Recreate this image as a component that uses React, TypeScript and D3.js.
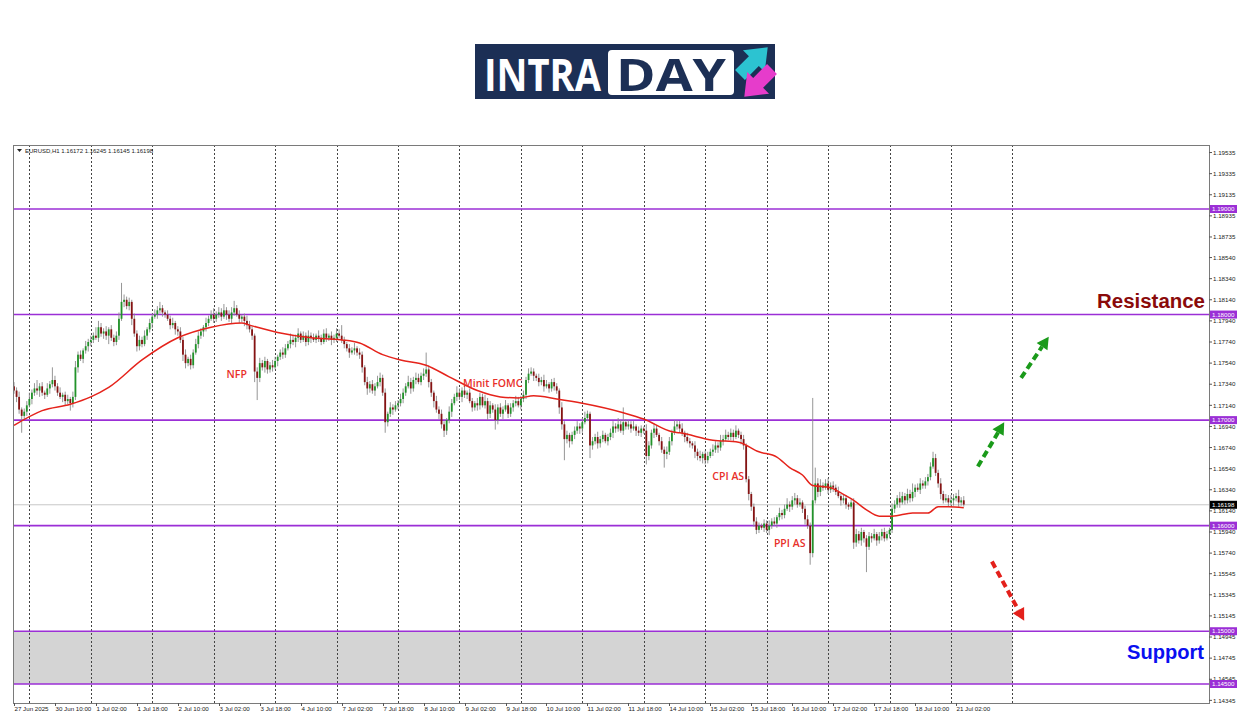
import React from 'react';
import * as d3 from 'd3';

// ---------- DATA ----------
const BASE_PRICE = 1.15; // pip offsets below are relative to this price
const FIRST_OPEN_PIPS = 232;
// close of each H1 bar, pips above 1.15000 (27 Jun 18:00 .. 21 Jul 05:00)
const CLOSE_PIPS = [
  228, 222, 210, 204, 208, 214, 220,
  226, 230, 228, 232, 226, 224, 230, 234, 238,
  232, 226, 222, 224, 218, 220, 216,
  222, 250, 262,
  258, 266, 270, 274, 276, 280, 278,
  288, 282,
  284, 280, 286, 278, 274, 280,
  296, 312, 314, 308, 312,
  296, 282, 270, 276, 272,
  280, 286, 292, 298, 300, 304, 306, 302,
  300, 296, 290, 292, 286, 284,
  276, 262, 254, 258, 252,
  264, 272, 280, 284,
  288, 292, 296, 300, 296, 300,
  302, 298, 304, 300, 296, 302, 306, 300, 296, 298,
  294, 290, 286,
  280, 246, 240,
  254, 250, 256, 248, 252, 250,
  256, 260, 264, 262, 268, 272, 276, 274,
  278, 282, 276, 280, 274, 280, 278,
  276, 280, 278, 274, 282, 278, 280, 276, 278, 282, 280, 276,
  272, 268, 264, 266, 268, 264, 262,
  250, 236, 230,
  234, 228, 232, 236,
  240, 226, 198,
  206, 212, 210, 214, 216,
  220, 226, 232, 236, 230, 238, 240, 236, 242, 244,
  248, 236, 226, 218, 210, 206,
  196, 190, 200,
  208, 216, 222, 226, 222, 228, 224, 226,
  218, 212, 216, 214,
  222, 214, 218, 206, 214, 210, 200, 212, 206,
  210, 214, 206, 212, 216, 218, 214, 220, 224,
  238, 244, 246, 242,
  240, 236, 238, 232, 234, 230, 236, 232, 228,
  212,
  196, 182, 186, 180,
  186, 190, 194, 192, 198, 202, 206,
  176,
  180, 184, 178, 182, 186, 180, 184,
  188, 194, 192, 196, 190, 198, 194, 196, 192,
  194, 190, 188, 192, 190,
  166,
  176, 188, 192, 186,
  180, 172, 168, 170,
  180, 188, 194, 196, 192,
  188, 184, 180, 178, 176,
  170, 166, 164, 168, 162, 166,
  170, 172, 176, 174, 180, 182, 186, 184, 188,
  184, 190, 186, 182, 176,
  144, 130, 118, 104, 96,
  100, 98, 102, 96, 100,
  104, 102, 108, 112, 110, 116, 120, 118, 124,
  126, 120, 122, 116,
  106, 100,
  74, 124,
  140, 132, 138,
  136, 140, 134, 138, 136, 132,
  128, 124, 126, 120, 118, 122,
  84,
  92, 86, 94, 88, 80,
  90, 88, 92, 86, 90, 94, 88, 92, 96,
  116,
  120, 126, 122, 128, 124, 130, 126, 132,
  136, 134, 140, 138, 142, 146,
  156, 164,
  150, 140, 130,
  124, 126, 122, 124, 126,
  128, 122, 124,
  120,
];
// upper wick length of each bar (pips)
const UP_WICK = [
  4,3,5,2,3,4,6,3,5,8,3,4,2,5,3,12,4,3,5,2,
  3,4,2,5,6,3,4,2,5,3,4,3,8,6,4,3,5,2,4,3,
  4,6,18,5,3,4,2,5,3,4,3,5,2,4,3,5,4,6,3,2,
  4,3,5,2,3,4,3,5,2,4,3,5,4,3,2,5,3,4,6,3,
  5,4,6,3,4,5,7,3,4,2,3,5,4,3,2,4,5,3,4,2,
  3,5,4,2,3,5,4,3,6,4,3,5,2,4,3,5,3,4,2,5,
  3,4,5,2,4,3,5,4,10,3,2,4,3,5,2,4,3,2,5,3,
  4,3,6,5,3,4,2,5,3,4,3,5,4,3,6,4,3,5,4,3,
  5,16,4,3,2,5,3,4,3,2,5,4,3,6,4,3,5,2,4,3,
  2,5,4,3,6,3,4,2,5,3,4,3,5,2,4,3,5,4,3,4,
  3,5,4,3,2,4,3,5,4,2,3,4,3,2,5,3,4,2,3,4,
  5,3,4,6,3,2,4,3,5,3,4,2,3,4,5,3,6,4,14,3,
  4,3,5,2,4,3,2,6,4,3,5,3,2,4,3,5,4,3,6,4,
  3,5,2,4,3,2,4,3,5,2,3,4,3,5,4,3,6,4,5,3,
  4,3,5,2,3,4,2,3,2,3,4,3,2,4,3,5,3,4,2,5,
  3,4,6,3,4,5,3,4,2,3,4,3,97,15,5,6,3,4,5,3,
  4,3,5,2,4,3,2,3,4,5,3,4,2,3,4,3,5,2,4,3,
  4,3,2,5,4,3,6,4,3,5,4,8,3,4,5,3,4,3,4,6,
  4,3,5,3,4,3,5,4,3,6,3,4,
];
// lower wick length of each bar (pips)
const DN_WICK = [
  3,5,4,16,3,4,2,5,3,4,6,3,4,2,5,3,4,3,2,5,
  4,3,7,4,3,5,2,4,3,5,4,3,2,4,3,5,4,8,3,4,
  3,4,2,5,3,4,6,3,5,4,3,2,4,3,5,2,4,3,4,3,
  2,4,3,5,4,3,6,5,3,4,3,2,4,3,5,4,3,2,4,3,
  3,4,2,5,3,4,3,2,4,3,5,4,3,4,10,21,4,3,5,4,
  3,4,2,5,3,4,3,2,4,3,5,4,3,2,4,3,5,2,3,4,
  3,2,4,3,5,3,4,2,3,4,3,5,2,4,3,4,5,3,6,4,
  3,5,2,4,3,10,4,3,5,2,4,3,4,3,2,5,3,4,2,3,
  4,3,5,4,6,3,5,4,6,4,3,5,2,4,3,5,3,4,2,4,
  3,5,4,2,3,6,4,3,9,4,3,5,2,4,3,4,3,2,4,3,
  4,3,2,5,3,4,3,5,2,4,3,4,3,6,5,20,4,6,3,4,
  3,5,4,2,3,12,4,3,5,4,3,2,4,3,5,4,3,2,4,3,
  3,4,2,5,3,4,3,8,4,3,5,2,4,3,13,5,3,4,2,3,
  4,3,5,2,4,3,6,4,3,5,4,3,2,4,3,5,3,4,2,3,
  3,4,2,3,5,4,3,6,4,5,4,3,2,4,3,5,3,2,4,3,
  4,3,2,5,3,4,3,2,4,5,3,11,4,3,5,4,3,2,4,3,
  4,3,2,5,3,4,3,2,6,4,3,5,4,24,3,4,2,5,3,4,
  3,2,4,3,4,3,5,2,4,3,4,3,5,2,4,3,3,4,3,2,
  3,4,5,3,2,4,3,5,3,4,3,2,
];
// moving average: [bar index, pips above 1.15000]
const MA_POINTS: [number, number][] = [
  [0, 195], [11, 209], [22, 215], [30, 222], [37, 231], [50, 257], [64, 278], [77, 288],
  [89, 292], [92, 290], [103, 283], [116, 278], [128, 276], [135, 273], [144, 262],
  [151, 257], [161, 252], [170, 241], [181, 228], [190, 222], [197, 221], [203, 223],
  [212, 220], [222, 216], [238, 207], [246, 201], [257, 189], [260, 188], [273, 181],
  [283, 179], [291, 170], [298, 165], [303, 155], [308, 148], [312, 138], [319, 136],
  [323, 131], [328, 124], [333, 115], [338, 109], [343, 109], [351, 112], [357, 112],
  [361, 118], [365, 118], [371, 117],
];
const X_LABELS = [
  '27 Jun 2025', '30 Jun 10:00', '1 Jul 02:00', '1 Jul 18:00', '2 Jul 10:00', '3 Jul 02:00',
  '3 Jul 18:00', '4 Jul 10:00', '7 Jul 02:00', '7 Jul 18:00', '8 Jul 10:00', '9 Jul 02:00',
  '9 Jul 18:00', '10 Jul 10:00', '11 Jul 02:00', '11 Jul 18:00', '14 Jul 10:00', '15 Jul 02:00',
  '15 Jul 18:00', '16 Jul 10:00', '17 Jul 02:00', '17 Jul 18:00', '18 Jul 10:00', '21 Jul 02:00',
];
const X_LABEL_BARS = [0, 16, 32, 48, 64, 80, 96, 112, 128, 144, 160, 176, 192, 208, 224, 240, 256, 272, 288, 304, 320, 336, 352, 368];
const DAY_START_BARS = [6, 30, 54, 78, 102, 126, 150, 174, 198, 222, 246, 270, 294, 318, 342, 366, 390];
const Y_TICKS = [
  1.19535, 1.19335, 1.19135, 1.18935, 1.18735, 1.1854, 1.1834, 1.1814, 1.1794, 1.1774,
  1.1754, 1.1734, 1.1714, 1.1694, 1.1674, 1.1654, 1.1634, 1.1614, 1.1594, 1.1574,
  1.15545, 1.15345, 1.15145, 1.14945, 1.14745, 1.14545, 1.14345,
];
const LEVELS = [1.19, 1.18, 1.17, 1.16, 1.15, 1.145];
const SUPPORT_ZONE = [1.145, 1.15];
const CURRENT_PRICE = 1.16198;
const EVENTS = [
  { label: 'NFP', bar: 87, price: 1.17436 },
  { label: 'Minit FOMC', bar: 187, price: 1.1735 },
  { label: 'CPI AS', bar: 279, price: 1.1647 },
  { label: 'PPI AS', bar: 303, price: 1.1584 },
];
const ARROWS = [
  { from: [376.5, 1.1656], to: [386.8, 1.1698], color: '#1a9a1a' },
  { from: [393.4, 1.1740], to: [404.2, 1.1779], color: '#1a9a1a' },
  { from: [382.0, 1.1566], to: [394.6, 1.1510], color: '#e3201b' },
];
const HEADER = 'EURUSD,H1  1.16172 1.16245 1.16145 1.16198';

// ---------- LAYOUT ----------
const W = 1250, H = 716;
const L = 13, T = 145, R = 1209, B = 703;

export default function App() {
  const x = d3.scaleLinear().domain([0, 390]).range([14, 1012.4]);
  const y = d3.scaleLinear().domain([1.145, 1.19]).range([684, 209]);
  const px = (p: number) => BASE_PRICE + p / 10000;

  const candles = CLOSE_PIPS.map((c, i) => {
    const o = i === 0 ? FIRST_OPEN_PIPS : CLOSE_PIPS[i - 1];
    const hi = Math.max(o, c) + UP_WICK[i];
    const lo = Math.min(o, c) - DN_WICK[i];
    return { i, o: px(o), c: px(c), h: px(hi), l: px(lo) };
  });

  const maLine = d3
    .line<[number, number]>()
    .x((d) => x(d[0]))
    .y((d) => y(px(d[1])))
    .curve(d3.curveMonotoneX)(MA_POINTS) as string;

  const axisFont = '"Liberation Sans", Arial, sans-serif';
  const arrowPoly = (x1: number, y1: number, x2: number, y2: number) => {
    const ang = Math.atan2(y2 - y1, x2 - x1);
    const len = 12, wid = 6.5;
    const bx = x2 - len * Math.cos(ang), by = y2 - len * Math.sin(ang);
    const nx = -Math.sin(ang), ny = Math.cos(ang);
    return { bx, by, pts: `${x2},${y2} ${bx + nx * wid},${by + ny * wid} ${bx - nx * wid},${by - ny * wid}` };
  };

  const logoArrow = 'M0,-5 L14,-5 L14,-11 L28,0 L14,11 L14,5 L0,5 Z';

  return (
    <svg width={W} height={H} style={{ position: 'absolute', left: 0, top: 0, background: '#fff' }}>
      <rect x={0} y={0} width={W} height={H} fill="#ffffff" />
      {/* Logo */}
      <g>
        <rect x={475} y={44} width={300} height={55} fill="#1c2f55" />
        <text x={484} y={91} fill="#ffffff" fontFamily='"Open Sans", sans-serif' fontWeight={700} fontSize={44} textLength={117} lengthAdjust="spacingAndGlyphs">INTRA</text>
        <rect x={608} y={50} width={126} height={45} rx={4} fill="#ffffff" />
        <text x={616} y={91} fill="#1c2f55" fontFamily='"Open Sans", sans-serif' fontWeight={700} fontSize={44} textLength={110} lengthAdjust="spacingAndGlyphs">DAY</text>
        <path d={logoArrow} fill="#2cc3d1" transform="translate(740,75) rotate(-45) scale(1.4)" />
        <path d={logoArrow} fill="#e63ccb" transform="translate(772,69) rotate(135) scale(1.4)" />
      </g>

      {/* Support zone */}
      <rect x={L} y={y(SUPPORT_ZONE[1])} width={x(390) - L} height={y(SUPPORT_ZONE[0]) - y(SUPPORT_ZONE[1])} fill="#d4d4d4" />

      {/* Vertical day grid */}
      {DAY_START_BARS.map((b) => (
        <line key={'g' + b} x1={Math.round(x(b)) + 0.5} x2={Math.round(x(b)) + 0.5} y1={T} y2={B} stroke="#444" strokeWidth={1} strokeDasharray="2,2" />
      ))}

      {/* Current price line */}
      <line x1={L} x2={R} y1={y(CURRENT_PRICE)} y2={y(CURRENT_PRICE)} stroke="#c8c8c8" strokeWidth={1} />

      {/* Levels */}
      {LEVELS.map((lv) => (
        <line key={'lv' + lv} x1={L} x2={R} y1={y(lv)} y2={y(lv)} stroke="#9b2fd6" strokeWidth={1.6} />
      ))}

      {/* Candles */}
      <g>
        {candles.map((d) => {
          const cx = x(d.i);
          const bull = d.c >= d.o;
          const top = y(Math.max(d.o, d.c));
          const bot = y(Math.min(d.o, d.c));
          return (
            <g key={d.i}>
              <line x1={cx} x2={cx} y1={y(d.h)} y2={y(d.l)} stroke="#8a8a8a" strokeWidth={0.9} />
              <rect x={cx - 0.9} y={top} width={1.8} height={Math.max(1, bot - top)} fill={bull ? '#22932a' : '#861313'} />
            </g>
          );
        })}
      </g>

      {/* Moving average */}
      <path d={maLine} fill="none" stroke="#e5231b" strokeWidth={1.5} />

      {/* Event labels */}
      {EVENTS.map((e) => (
        <text key={e.label} x={x(e.bar)} y={y(e.price) + 4} textAnchor="middle" fill="#e8302a" fontFamily='"Open Sans", sans-serif' fontWeight={600} fontSize={10.5}>{e.label}</text>
      ))}

      {/* Arrows */}
      {ARROWS.map((a, k) => {
        const x1 = x(a.from[0]), y1 = y(a.from[1]), x2 = x(a.to[0]), y2 = y(a.to[1]);
        const ap = arrowPoly(x1, y1, x2, y2);
        return (
          <g key={'a' + k}>
            <line x1={x1} y1={y1} x2={ap.bx} y2={ap.by} stroke={a.color} strokeWidth={4} strokeDasharray="7,4" />
            <polygon points={ap.pts} fill={a.color} />
          </g>
        );
      })}

      {/* Resistance / Support */}
      <text x={1205} y={308} textAnchor="end" fill="#8a0a0a" fontFamily='"Liberation Sans", Arial, sans-serif' fontWeight={900} fontSize={20} textLength={108} lengthAdjust="spacingAndGlyphs">Resistance</text>
      <text x={1204} y={659} textAnchor="end" fill="#0a0ff0" fontFamily='"Liberation Sans", Arial, sans-serif' fontWeight={900} fontSize={20} textLength={77} lengthAdjust="spacingAndGlyphs">Support</text>

      {/* Frame */}
      <rect x={L + 0.5} y={T + 0.5} width={R - L} height={B - T} fill="none" stroke="#7a7a7a" strokeWidth={1} />

      {/* Header */}
      <path d={`M17,149 L22,149 L19.5,152 Z`} fill="#222" />
      <text x={25} y={152.5} fontFamily={axisFont} fontSize={6} fill="#222">{HEADER}</text>

      {/* Y axis ticks */}
      {Y_TICKS.map((v) => (
        <g key={'yt' + v}>
          <line x1={R} x2={R + 3} y1={y(v)} y2={y(v)} stroke="#555" />
          <text x={R + 4} y={y(v) + 2.2} fontFamily={axisFont} fontSize={6.2} fill="#222">{v.toFixed(5)}</text>
        </g>
      ))}
      {/* Level labels */}
      {LEVELS.map((lv) => (
        <g key={'ll' + lv}>
          <rect x={R + 1} y={y(lv) - 4} width={27} height={8} fill="#9b2fd6" />
          <text x={R + 3} y={y(lv) + 2.2} fontFamily={axisFont} fontSize={6.2} fill="#ffffff">{lv.toFixed(5)}</text>
        </g>
      ))}
      <rect x={R + 1} y={y(CURRENT_PRICE) - 4} width={27} height={8} fill="#000" />
      <text x={R + 3} y={y(CURRENT_PRICE) + 2.2} fontFamily={axisFont} fontSize={6.2} fill="#ffffff">{CURRENT_PRICE.toFixed(5)}</text>

      {/* X axis */}
      {X_LABELS.map((lab, k) => {
        const xx = Math.round(x(X_LABEL_BARS[k])) + 0.5;
        return (
          <g key={'xl' + k}>
            <line x1={xx} x2={xx} y1={B} y2={B + 3} stroke="#555" />
            <text x={xx} y={711} fontFamily={axisFont} fontSize={6.2} fill="#222">{lab}</text>
          </g>
        );
      })}
    </svg>
  );
}
